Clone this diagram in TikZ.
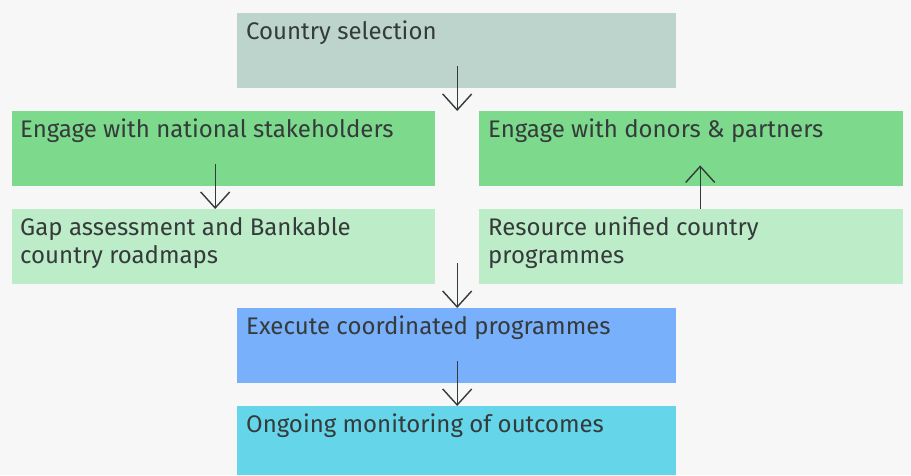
\documentclass[tikz,border=0pt]{standalone}
\usepackage{fontspec}
\setmainfont{Fira Sans}
\usetikzlibrary{arrows.meta,calc}
\definecolor{bgcol}{HTML}{F7F7F7}
\definecolor{selcol}{HTML}{BCD4CC}
\definecolor{engcol}{HTML}{7DD98C}
\definecolor{gapcol}{HTML}{BDECC8}
\definecolor{execol}{HTML}{78B0FB}
\definecolor{moncol}{HTML}{65D5EA}
\definecolor{inkcol}{HTML}{353A3A}

\begin{document}
\begin{tikzpicture}[x=1pt,y=1pt,
  box/.style={anchor=north west,inner sep=0pt,minimum height=75pt},
  txt/.style={anchor=base west,inner sep=0pt,align=left,text=inkcol,
    font=\fontsize{24}{28}\selectfont},
  flow/.style={draw=inkcol,line width=1.4pt,-{Straight Barb[length=16pt,width=29pt]}}]
% Background
\fill[bgcol] (0,0) rectangle (911,-475);
\useasboundingbox (0,0) rectangle (911,-475);
% Boxes
\node[box,fill=selcol,minimum width=439pt] (country) at (237,-13) {};
\node[box,fill=engcol,minimum width=423pt] (national) at (12,-111) {};
\node[box,fill=engcol,minimum width=424pt] (donors) at (479,-111) {};
\node[box,fill=gapcol,minimum width=423pt] (gap) at (12,-209) {};
\node[box,fill=gapcol,minimum width=424pt] (resource) at (479,-209) {};
\node[box,fill=execol,minimum width=439pt] (execute) at (237,-308) {};
\node[box,fill=moncol,minimum width=439pt,minimum height=69pt] (monitor) at (237,-406) {};
% Labels (base is the last line, so two-line texts sit one line lower)
\node[txt] (countrytxt) at ($(country.north west)+(9,-26)$) {Country selection};
\node[txt] (nationaltxt) at ($(national.north west)+(8,-26)$) {Engage with national stakeholders};
\node[txt] (donorstxt) at ($(donors.north west)+(9,-26)$) {Engage with donors \& partners};
\node[txt] (gaptxt) at ($(gap.north west)+(8,-54)$) {Gap assessment and Bankable\\country roadmaps};
\node[txt] (resourcetxt) at ($(resource.north west)+(9,-54)$) {Resource unified country\\programmes};
\node[txt] (executetxt) at ($(execute.north west)+(9,-26)$) {Execute coordinated programmes};
\node[txt] (monitortxt) at ($(monitor.north west)+(9,-26)$) {Ongoing monitoring of outcomes};
% Arrows
\coordinate (c1) at ($(country.south)+(0.5,22)$);
\draw[flow] (c1) -- (c1 |- national.north);
\coordinate (c2) at ($(national.south)+(-8.5,22)$);
\draw[flow] (c2) -- (c2 |- gap.north);
\coordinate (c3) at ($(resource.north)+(9,0)$);
\draw[flow] (c3) -- ($(c3 |- donors.south)+(0,21)$);
\coordinate (c4) at ($(gap.south east)!0.5!(resource.south west)+(0,21)$);
\draw[flow] (c4) -- (c4 |- execute.north);
\coordinate (c5) at ($(execute.south)+(0.5,22)$);
\draw[flow] (c5) -- (c5 |- monitor.north);
\end{tikzpicture}
\end{document}
